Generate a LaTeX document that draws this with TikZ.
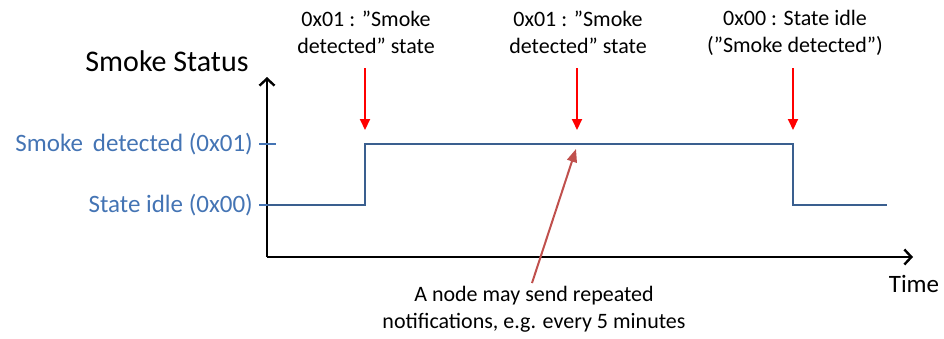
\documentclass[tikz,border=0pt]{standalone}
\usepackage{fontspec}
\setmainfont{Carlito}
\usetikzlibrary{arrows.meta}
\definecolor{sigblue}{HTML}{3A5F8F}
\definecolor{lblblue}{HTML}{4474B4}
\definecolor{noteRed}{HTML}{C0504D}
\tikzset{
  axis/.style={line width=2.4pt, black, -{Straight Barb[length=7pt,width=15pt,line width=2.4pt]}},
  signal/.style={line width=2.4pt, sigblue, line join=miter},
  tick/.style={line width=2.2pt, lblblue},
  marker/.style={line width=2pt, red, -{Triangle[length=11pt,width=10pt]}},
  note/.style={line width=2pt, noteRed, -{Triangle[length=13pt,width=10pt]}},
  txt/.style={font=\fontsize{22pt}{27pt}\selectfont, align=center, inner sep=0pt},
  lbl/.style={font=\fontsize{25pt}{30pt}\selectfont, text=lblblue, inner sep=0pt, anchor=east},
}
\begin{document}
\begin{tikzpicture}[x=1pt,y=-1pt]
\useasboundingbox (0,0) rectangle (944,338);
% axes
\coordinate (O) at (267,257);
\coordinate (ytop) at (267,77);
\coordinate (xend) at (913,257);
\draw[axis] (O) -- (ytop);
\draw[axis] (O) -- (xend);
\node[font=\fontsize{30pt}{34pt}\selectfont, inner sep=0pt] (ytitle) at (167,61) {Smoke Status};
\node[font=\fontsize{25pt}{30pt}\selectfont, inner sep=0pt] (xtitle) at (914,284) {Time};
% levels
\coordinate (hi) at (267,144);
\coordinate (lo) at (267,205);
\draw[tick] ([xshift=-8pt]hi) -- ([xshift=9pt]hi);
\draw[tick] ([xshift=-8pt]lo) -- ([xshift=9pt]lo);
\node[lbl] (hilbl) at (253,144) {Smoke\, detected (0x01)};
\node[lbl] (lolbl) at (253,205) {State idle (0x00)};
% signal
\coordinate (rise) at (365,205);
\coordinate (fall) at (793,144);
\coordinate (send) at (887,205);
\draw[signal] (lo) -- (rise) -- (365,144) -- (fall) -- (793,205) -- (send);
% event markers
\node[txt] (e1) at (366,32) {0x01 : ”Smoke\\detected” state};
\node[txt] (e2) at (578,32) {0x01 : ”Smoke\\detected” state};
\node[txt] (e3) at (795,33) {0x00 : State idle\\(”Smoke detected”)};
\coordinate (t1) at (365,130);
\coordinate (t2) at (577,130);
\coordinate (t3) at (793,130);
\draw[marker] (365,68) -- (t1);
\draw[marker] (577,68) -- (t2);
\draw[marker] (793,68) -- (t3);
% repeated notifications note
\node[txt] (nt) at (534,309) {A node may send repeated\\notifications, e.g. every 5 minutes};
\coordinate (nstart) at (532,283);
\coordinate (ntip) at (576,149);
\draw[note] (nstart) -- (ntip);
\end{tikzpicture}
\end{document}
